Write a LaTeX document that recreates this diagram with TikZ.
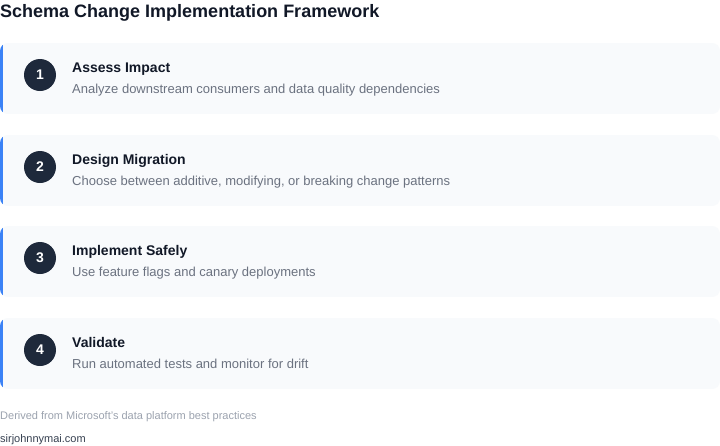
\documentclass[tikz,border=0pt]{standalone}
\usepackage{fontspec}
\setmainfont{Liberation Sans}
\definecolor{cardbg}{HTML}{F8FAFC}
\definecolor{accent}{HTML}{3B82F6}
\definecolor{circ}{HTML}{1E293B}
\definecolor{ttl}{HTML}{111827}
\definecolor{desc}{HTML}{6B7280}
\definecolor{foot}{HTML}{9CA3AF}
\definecolor{site}{HTML}{374151}
\tikzset{
  cardtitle/.style={anchor=base west, inner sep=0pt, text=ttl, font=\fontsize{14}{16}\selectfont\bfseries},
  carddesc/.style={anchor=base west, inner sep=0pt, text=desc, font=\fontsize{13}{15}\selectfont},
  numcirc/.style={circle, fill=circ, minimum size=32pt, inner sep=0pt, text=white, font=\fontsize{14}{16}\selectfont\bfseries},
}
\begin{document}
\begin{tikzpicture}[x=1pt,y=-1pt]
\useasboundingbox (0,0) rectangle (720,445);
\fill[white] (0,0) rectangle (720,445);
\node[anchor=base west, inner sep=0pt, text=ttl, font=\fontsize{18}{20}\selectfont\bfseries] (title) at (0,17) {Schema Change Implementation Framework};
\foreach \i/\top/\t/\d in {1/43/Assess Impact/Analyze downstream consumers and data quality dependencies,
  2/135/Design Migration/{Choose between additive, modifying, or breaking change patterns},
  3/226/Implement Safely/Use feature flags and canary deployments,
  4/318/Validate/Run automated tests and monitor for drift}{
  \begin{scope}
    \clip[rounded corners=8pt] (0,\top) rectangle (720,\top+71);
    \fill[cardbg] (0,\top) rectangle (720,\top+71);
    \fill[accent] (0,\top) rectangle (3,\top+71);
  \end{scope}
  \node[numcirc] (c\i) at (40,\top+32) {\i};
  \node[cardtitle] (t\i) at (72,\top+29) {\t};
  \node[carddesc] (d\i) at (72,\top+50) {\d};
}
\node[anchor=base west, inner sep=0pt, text=foot, font=\fontsize{11}{13}\selectfont] (src) at (0,419.5) {Derived from Microsoft’s data platform best practices};
\node[anchor=base west, inner sep=0pt, text=site, font=\fontsize{11}{13}\selectfont] (site) at (0,442.5) {sirjohnnymai.com};
\end{tikzpicture}
\end{document}
